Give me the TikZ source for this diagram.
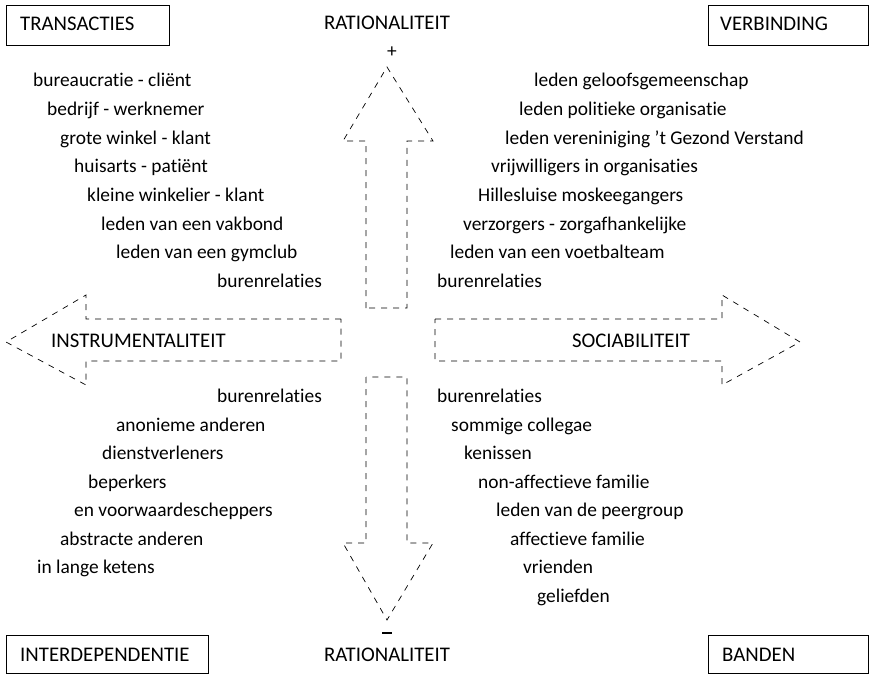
\documentclass[tikz,border=0pt]{standalone}
\usepackage{fontspec}
\setmainfont{Carlito}[Ligatures={NoCommon}]
\begin{document}
\begin{tikzpicture}[x=1pt,y=-1pt,
  lbl/.style={inner sep=0pt,anchor=base west,font=\fontsize{19.4}{21}\selectfont},
  capslbl/.style={inner sep=0pt,anchor=base west,font=\fontsize{20.8}{22}\selectfont},
  corner/.style={draw,line width=0.7pt,inner sep=0pt},
  dasharrow/.style={draw,line width=0.7pt,dash pattern=on 6pt off 6pt}]
\useasboundingbox (0,0) rectangle (869,674);
% corner boxes
\draw[corner] (6,5) rectangle (169,45);
\draw[corner] (708,5) rectangle (868,45);
\draw[corner] (6,635) rectangle (208,673);
\draw[corner] (708,635) rectangle (868,673);
\node[capslbl] (transacties) at (20,31) {TRANSACTIES};
\node[capslbl] (verbinding) at (720,31) {VERBINDING};
\node[capslbl] (interdep) at (20,661) {INTERDEPENDENTIE};
\node[capslbl] (banden) at (722,661) {BANDEN};
% rationaliteit
\node[capslbl,anchor=base] (ratTop) at (387,30) {RATIONALITEIT};
\node[lbl,anchor=center] (plus) at (392,52) {+};
\node[capslbl,anchor=base] (ratBot) at (387,661) {RATIONALITEIT};
\draw[line width=1.6pt] (382,633) -- (392,633);
% arrows
\path[dasharrow] (366,308) -- (366,141) -- (343,141) -- (387,67) -- (433,141) -- (407,141) -- (407,308) -- cycle;
\path[dasharrow] (366,377) -- (366,543) -- (343,543) -- (387,620) -- (433,543) -- (407,543) -- (407,377) -- cycle;
\path[dasharrow] (341,319) -- (86,319) -- (86,295) -- (6,342) -- (86,385) -- (86,361) -- (341,361) -- cycle;
\path[dasharrow] (435,319) -- (722,319) -- (722,295) -- (800,342) -- (722,385) -- (722,361) -- (435,361) -- cycle;
\node[capslbl] (instr) at (51,347) {INSTRUMENTALITEIT};
\node[capslbl,anchor=base] (soc) at (631,347) {SOCIABILITEIT};
% top-left
\node[lbl] (tl1) at (33,87) {bureaucratie - cliënt};
\node[lbl] (tl2) at (47,115.5) {bedrijf - werknemer};
\node[lbl] (tl3) at (60,144) {grote winkel - klant};
\node[lbl] (tl4) at (74,172.5) {huisarts - patiënt};
\node[lbl] (tl5) at (87,201) {kleine winkelier - klant};
\node[lbl] (tl6) at (101,230) {leden van een vakbond};
\node[lbl] (tl7) at (116,258) {leden van een gymclub};
\node[lbl] (tl8) at (217,287) {burenrelaties};
% top-right
\node[lbl] (tr1) at (534,87) {leden geloofsgemeenschap};
\node[lbl] (tr2) at (519,115.5) {leden politieke organisatie};
\node[lbl] (tr3) at (505,144) {leden vereniniging ’t Gezond Verstand};
\node[lbl] (tr4) at (491,172.5) {vrijwilligers in organisaties};
\node[lbl] (tr5) at (478,201) {Hillesluise moskeegangers};
\node[lbl] (tr6) at (463,230) {verzorgers - zorgafhankelijke};
\node[lbl] (tr7) at (450,258) {leden van een voetbalteam};
\node[lbl] (tr8) at (437,287) {burenrelaties};
% bottom-left
\node[lbl] (bl1) at (217,402) {burenrelaties};
\node[lbl] (bl2) at (116,431) {anonieme anderen};
\node[lbl] (bl3) at (102,459) {dienstverleners};
\node[lbl] (bl4) at (88,488) {beperkers};
\node[lbl] (bl5) at (74,516) {en voorwaardescheppers};
\node[lbl] (bl6) at (60,545) {abstracte anderen};
\node[lbl] (bl7) at (37,573) {in lange ketens};
% bottom-right
\node[lbl] (br1) at (437,402) {burenrelaties};
\node[lbl] (br2) at (451,431) {sommige collegae};
\node[lbl] (br3) at (464,459) {kenissen};
\node[lbl] (br4) at (478,488) {non-affectieve familie};
\node[lbl] (br5) at (496,516) {leden van de peergroup};
\node[lbl] (br6) at (510,545) {affectieve familie};
\node[lbl] (br7) at (523,573) {vrienden};
\node[lbl] (br8) at (537,602) {geliefden};
\end{tikzpicture}
\end{document}
